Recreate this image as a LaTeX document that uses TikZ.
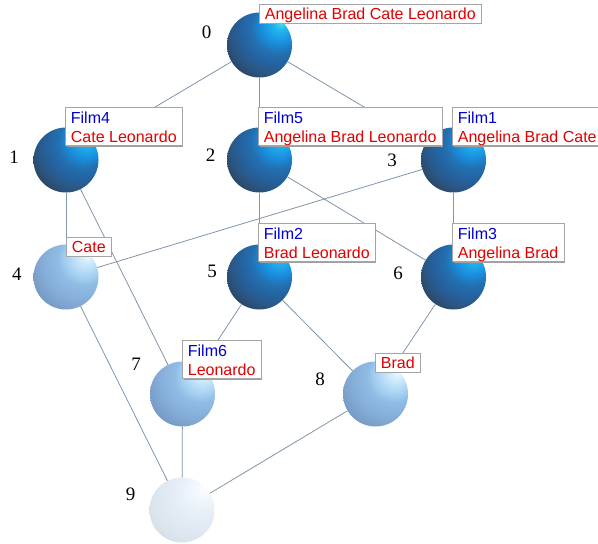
\documentclass[tikz,border=0pt]{standalone}
\usepackage{fontspec}
\usetikzlibrary{shadows}
\newfontfamily\lblfont{Liberation Sans}
\newfontfamily\numfont{Liberation Serif}
\definecolor{fb}{RGB}{0,0,210}
\definecolor{fr}{RGB}{225,0,0}
\definecolor{edgec}{RGB}{128,150,172}
\definecolor{boxc}{RGB}{165,165,165}
\pgfdeclareradialshading{darkballsh}{\pgfpoint{17bp}{17bp}}{%
 color(0bp)=(rgb,255:red,64;green,224;blue,244);
 color(5bp)=(rgb,255:red,34;green,180;blue,236);
 color(12bp)=(rgb,255:red,26;green,148;blue,226);
 color(16bp)=(rgb,255:red,28;green,130;blue,206);
 color(20bp)=(rgb,255:red,35;green,112;blue,176);
 color(27bp)=(rgb,255:red,36;green,98;blue,160);
 color(33bp)=(rgb,255:red,42;green,88;blue,136);
 color(38bp)=(rgb,255:red,44;green,76;blue,110);
 color(43bp)=(rgb,255:red,40;green,60;blue,82);
 color(47bp)=(rgb,255:red,34;green,46;blue,58);
 color(100bp)=(rgb,255:red,34;green,46;blue,58)}
\pgfdeclareradialshading{lightballsh}{\pgfpoint{17bp}{17bp}}{%
 color(0bp)=(rgb,255:red,240;green,252;blue,255);
 color(5bp)=(rgb,255:red,208;green,236;blue,252);
 color(12bp)=(rgb,255:red,176;green,216;blue,246);
 color(16bp)=(rgb,255:red,160;green,204;blue,240);
 color(20bp)=(rgb,255:red,144;green,188;blue,228);
 color(27bp)=(rgb,255:red,136;green,178;blue,220);
 color(35bp)=(rgb,255:red,126;green,164;blue,206);
 color(42bp)=(rgb,255:red,112;green,148;blue,188);
 color(46bp)=(rgb,255:red,98;green,130;blue,166);
 color(49bp)=(rgb,255:red,86;green,112;blue,144);
 color(100bp)=(rgb,255:red,86;green,112;blue,144)}
\pgfdeclareradialshading{paleballsh}{\pgfpoint{17bp}{17bp}}{%
 color(0bp)=(rgb,255:red,251;green,253;blue,255);
 color(10bp)=(rgb,255:red,238;green,245;blue,251);
 color(20bp)=(rgb,255:red,228;green,237;blue,245);
 color(36bp)=(rgb,255:red,218;green,228;blue,237);
 color(49bp)=(rgb,255:red,198;green,210;blue,222);
 color(100bp)=(rgb,255:red,198;green,210;blue,222)}
\tikzset{
 ball/.style={circle,inner sep=0pt,minimum size=65pt},
 darkball/.style={ball,shading=darkballsh},
 lightball/.style={ball,shading=lightballsh},
 paleball/.style={ball,shading=paleballsh},
 edge/.style={draw=edgec,line width=0.8pt},
 lbl/.style={draw=boxc,fill=white,line width=0.8pt,anchor=north west,
   inner xsep=5.5pt,inner ysep=0pt,
   font=\lblfont\fontsize{16}{19}\selectfont,
   drop shadow={shadow xshift=1.2pt,shadow yshift=-1.2pt,fill=gray!75,opacity=1}},
 lblone/.style={lbl,text height=15.5pt,text depth=3pt},
 lbltwo/.style={lbl,text height=35pt,text depth=3pt},
 num/.style={font=\numfont\fontsize{19}{19}\selectfont,inner sep=0pt}
}
\newcommand{\twol}[2]{\vbox{\baselineskip=19pt\hbox{\textcolor{fb}{#1}}\hbox{\textcolor{fr}{#2}}}}
\begin{document}
\begin{tikzpicture}[x=1pt,y=-1pt]
\useasboundingbox (0,0) rectangle (598,544);
\fill[white] (0,0) rectangle (598,544);
% spheres
\node[darkball] (n0) at (259.5,45) {};
\node[darkball] (n1) at (66,160) {};
\node[darkball] (n2) at (259.5,160) {};
\node[darkball] (n3) at (453.5,160) {};
\node[lightball] (n4) at (66,277) {};
\node[darkball] (n5) at (259.5,277) {};
\node[darkball] (n6) at (453.5,277) {};
\node[lightball] (n7) at (182.5,394) {};
\node[lightball] (n8) at (375.5,394) {};
\node[paleball] (n9) at (182,510) {};
% edges
\draw[edge] (n0) -- (n1);
\draw[edge] (n0) -- (n2);
\draw[edge] (n0) -- (n3);
\draw[edge] (n1) -- (n4);
\draw[edge] (n1) -- (n7);
\draw[edge] (n2) -- (n5);
\draw[edge] (n2) -- (n6);
\draw[edge] (n3) -- (n4);
\draw[edge] (n3) -- (n6);
\draw[edge] (n4) -- (n9);
\draw[edge] (n5) -- (n7);
\draw[edge] (n5) -- (n8);
\draw[edge] (n6) -- (n8);
\draw[edge] (n7) -- (n9);
\draw[edge] (n8) -- (n9);
% labels
\node[lblone] (l0) at (259,4) {\textcolor{fr}{Angelina Brad Cate Leonardo}};
\node[lbltwo] (l1) at (65,107) {\twol{Film4}{Cate Leonardo}};
\node[lbltwo] (l2) at (258,107) {\twol{Film5}{Angelina Brad Leonardo}};
\node[lbltwo] (l3) at (452,107) {\twol{Film1}{Angelina Brad Cate}};
\node[lblone] (l4) at (66,237) {\textcolor{fr}{Cate}};
\node[lbltwo] (l5) at (258,223) {\twol{Film2}{Brad Leonardo}};
\node[lbltwo] (l6) at (452,223) {\twol{Film3}{Angelina Brad}};
\node[lbltwo] (l7) at (182,340) {\twol{Film6}{Leonardo}};
\node[lblone] (l8) at (375,353) {\textcolor{fr}{Brad}};
% numbers
\node[num] (t0) at (206.5,32) {0};
\node[num] (t1) at (14,157.5) {1};
\node[num] (t2) at (210.5,155.5) {2};
\node[num] (t3) at (392,160) {3};
\node[num] (t4) at (17,274.5) {4};
\node[num] (t5) at (212,271.5) {5};
\node[num] (t6) at (398,273.5) {6};
\node[num] (t7) at (136,364.5) {7};
\node[num] (t8) at (320,379.5) {8};
\node[num] (t9) at (130.5,494.5) {9};
\end{tikzpicture}
\end{document}
